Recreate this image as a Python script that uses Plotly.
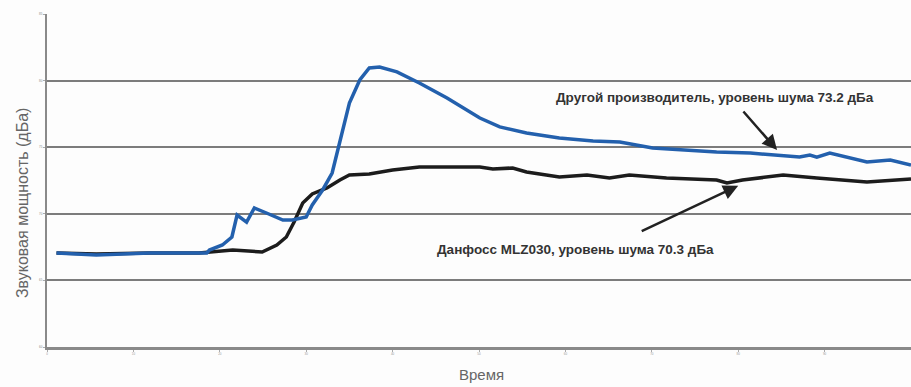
import plotly.graph_objects as go

# Time axis (arbitrary units) and sound power (dBA, arbitrary scale)
other_x = [1.1, 5.7, 11.9, 17.6, 18.5, 18.8, 20.3, 21.4, 22.0, 23.1, 24.0, 25.4, 27.3, 28.4, 30.0,
           30.7, 31.9, 33.0, 33.9, 35.0, 36.2, 37.3, 38.5, 40.5, 43.1, 46.3, 50.1, 52.4, 55.5,
           59.3, 63.2, 66.3, 70.1, 73.6, 77.5, 81.4, 84.5, 87.1, 88.3, 89.1, 90.6, 92.9, 94.9,
           97.6, 100.0]
other_y = [67.06, 66.91, 67.06, 67.06, 67.06, 67.28, 67.66, 68.26, 69.91, 69.38, 70.44, 70.06,
           69.53, 69.53, 69.76, 70.66, 71.79, 73.06, 75.32, 78.32, 80.05, 80.95, 81.02, 80.65,
           79.82, 78.69, 77.19, 76.52, 76.07, 75.69, 75.47, 75.39, 74.94, 74.79, 74.64, 74.56,
           74.41, 74.26, 74.41, 74.26, 74.56, 74.19, 73.89, 74.04, 73.66]

danfoss_x = [1.1, 5.7, 11.9, 17.6, 21.5, 24.9, 26.6, 27.7, 28.6, 29.6, 30.7, 31.5, 32.4, 33.9,
             35.0, 37.3, 40.0, 43.1, 46.3, 50.1, 51.6, 53.9, 55.5, 59.3, 62.5, 65.1, 67.4,
             71.7, 77.5, 78.7, 80.5, 82.5, 85.2, 89.1, 94.9, 100.0]
danfoss_y = [67.06, 66.98, 67.06, 67.06, 67.28, 67.13, 67.66, 68.26, 69.38, 70.81, 71.49, 71.71,
             71.94, 72.54, 72.91, 72.99, 73.29, 73.51, 73.51, 73.51, 73.36, 73.44, 73.14, 72.76,
             72.91, 72.69, 72.91, 72.69, 72.54, 72.31, 72.54, 72.69, 72.91, 72.69, 72.39, 72.61]

x_ticks = [0, 10, 20, 30, 40, 50, 60, 70, 80, 90, 100]
y_ticks = [60, 65, 70, 75, 80, 85]

label_other = "Другой производитель, уровень шума 73.2 дБа"
label_danfoss = "Данфосс MLZ030, уровень шума 70.3 дБа"
x_title = "Время"
y_title = "Звуковая мощность (дБа)"

fig = go.Figure()
fig.add_trace(go.Scatter(x=danfoss_x, y=danfoss_y, mode="lines",
                         line=dict(color="#1c1c1c", width=3.5), name="Данфосс MLZ030"))
fig.add_trace(go.Scatter(x=other_x, y=other_y, mode="lines",
                         line=dict(color="#2360ad", width=3.5), name="Другой производитель"))

fig.update_layout(
    width=911, height=387,
    margin=dict(l=47, r=0, t=14, b=40, autoexpand=False),
    paper_bgcolor="#fdfdfd", plot_bgcolor="#fdfdfd",
    showlegend=False,
    font=dict(family="Liberation Sans, Arial, sans-serif", color="#555555"),
    xaxis=dict(range=[0, 100], tickvals=x_ticks, showgrid=False, zeroline=False,
               automargin=False,
               showline=True, linecolor="#8a8a8a", linewidth=2.5,
               ticks="outside", ticklen=2, tickcolor="#aaaaaa",
               tickfont=dict(size=3, color="#999999")),
    yaxis=dict(range=[60, 85], tickvals=y_ticks, showgrid=True, gridcolor="#7c7c7c",
               gridwidth=1.5, zeroline=False, automargin=False,
               showline=True, linecolor="#8a8a8a", linewidth=2,
               ticks="outside", ticklen=2, tickcolor="#aaaaaa",
               tickfont=dict(size=3, color="#888888")),
)

narrow = "Liberation Sans Narrow, Arial Narrow, Liberation Sans, sans-serif"
annotations = [
    dict(text=y_title, xref="paper", yref="paper", x=-0.029, y=0.435, textangle=-90,
         showarrow=False, font=dict(size=16, color="#666666", family=narrow),
         xanchor="center", yanchor="middle"),
    dict(text=x_title, xref="paper", yref="paper", x=0.503, y=-0.084,
         showarrow=False, font=dict(size=15, color="#666666", family=narrow),
         xanchor="center", yanchor="middle"),
    dict(text="<b>" + label_other + "</b>", xref="paper", yref="paper", x=0.773, y=0.75,
         showarrow=False, font=dict(size=13.5, color="#333333"), xanchor="center", yanchor="middle"),
    dict(text="<b>" + label_danfoss + "</b>", xref="paper", yref="paper", x=0.612, y=0.294,
         showarrow=False, font=dict(size=13.5, color="#333333"), xanchor="center", yanchor="middle"),
    dict(text="", x=84.5, y=74.79, xref="x", yref="y", showarrow=True, ax=-35, ay=-40,
         arrowhead=2, arrowsize=1.2, arrowwidth=2.5, arrowcolor="#222222"),
    dict(text="", x=80.0, y=72.1, xref="x", yref="y", showarrow=True, ax=-98, ay=46,
         arrowhead=2, arrowsize=1.2, arrowwidth=2.5, arrowcolor="#222222"),
]
fig.update_layout(annotations=annotations)

fig.write_html("out.html", config={"displayModeBar": False},
               post_script="document.body.style.margin='0';document.body.style.overflow='hidden';")
